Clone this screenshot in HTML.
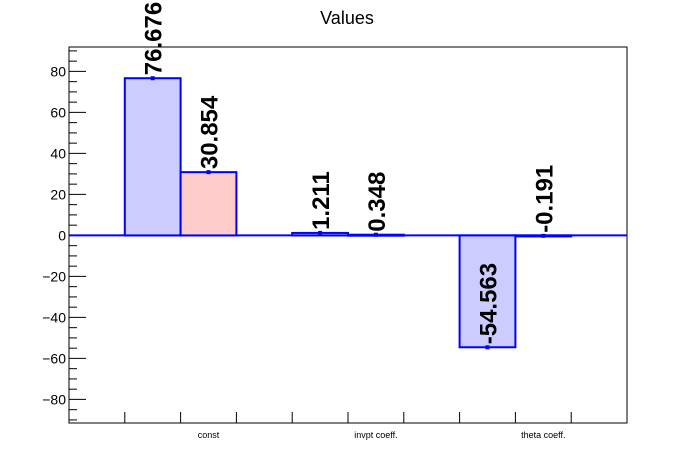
<!DOCTYPE html>
<html><head><meta charset="utf-8"><style>
body{margin:0;background:#fff;}
svg{display:block;font-family:"Liberation Sans",Arial,sans-serif;}
</style></head><body>
<svg id="c" width="696" height="472" xmlns="http://www.w3.org/2000/svg">
<text x="347" y="24" font-size="18" text-anchor="middle">Values</text>
<g id="plot"></g>
</svg>
<script>
const categories = ["const", "invpt coeff.", "theta coeff."];
const series1 = [76.676, 1.211, -54.563];
const series2 = [30.854, 0.348, -0.191];
const yTicks = [-80, -60, -40, -20, 0, 20, 40, 60, 80];

const L = 69, R = 627, T = 47, B = 423;
const yMin = -91.5, yMax = 91.9;
const xMin = 0, xMax = 10;
const NS = "http://www.w3.org/2000/svg";
const g = document.getElementById('plot');
function X(v){ return L + (v - xMin) / (xMax - xMin) * (R - L); }
function Y(v){ return B - (v - yMin) / (yMax - yMin) * (B - T); }
function mk(tag, attrs, parent){
  const e = document.createElementNS(NS, tag);
  for (const k in attrs) e.setAttribute(k, attrs[k]);
  (parent || g).appendChild(e);
  return e;
}

// frame
let fr = mk('rect', {x:L, y:T, width:R-L, height:B-T, fill:'none', stroke:'#000', 'stroke-width':1});



// y ticks
for (let v = -90; v <= 90; v += 5) {
  const major = v % 20 === 0;
  const t = mk('line', {x1:L, x2:L + (major ? 17 : 8), y1:Y(v), y2:Y(v), stroke:'#000', 'stroke-width':1});
  
  
}
yTicks.forEach(v => {
  const t = mk('text', {x:L - 3, y:Y(v) + 5, 'font-size':14, 'text-anchor':'end'});
  t.textContent = (v < 0 ? '\u2212' + (-v) : String(v));
  
  
});

// x ticks
for (let i = 1; i < 10; i++) {
  const t = mk('line', {x1:X(i), x2:X(i), y1:B, y2:B - 11, stroke:'#000', 'stroke-width':1});
  
  
}
categories.forEach((c, i) => {
  const t = mk('text', {x:X(2.5 + 3*i), y:B + 15, 'font-size':9, 'text-anchor':'middle'});
  t.textContent = c;
  
  
});

// zero line
const zl = mk('line', {x1:L, x2:R, y1:Y(0), y2:Y(0), stroke:'#0000ff', 'stroke-width':2});



function bar(x0, v, fill, name){
  const y0 = Y(0), y1 = Y(v);
  const r = mk('rect', {x:X(x0), y:Math.min(y0,y1), width:X(x0+1)-X(x0), height:Math.max(1, Math.abs(y1-y0)), fill:fill, stroke:'#0000ff', 'stroke-width':2});
  
  
  const m = mk('rect', {x:X(x0+0.5)-2, y:y1-2, width:4, height:4, fill:'#0000ff'});
  
  
  const cx = X(x0+0.5) + 9, cy = y1 - 3;
  const t = mk('text', {x:cx, y:cy, 'font-size':24, 'font-weight':'bold', transform:'rotate(-90 '+cx+' '+cy+')'});
  t.textContent = v.toFixed(3);
  
  
}
categories.forEach((c, i) => {
  bar(1 + 3*i, series1[i], '#ccccff', 'bar-series1-' + i);
  bar(2 + 3*i, series2[i], '#ffcccc', 'bar-series2-' + i);
});
</script>
</body></html>
